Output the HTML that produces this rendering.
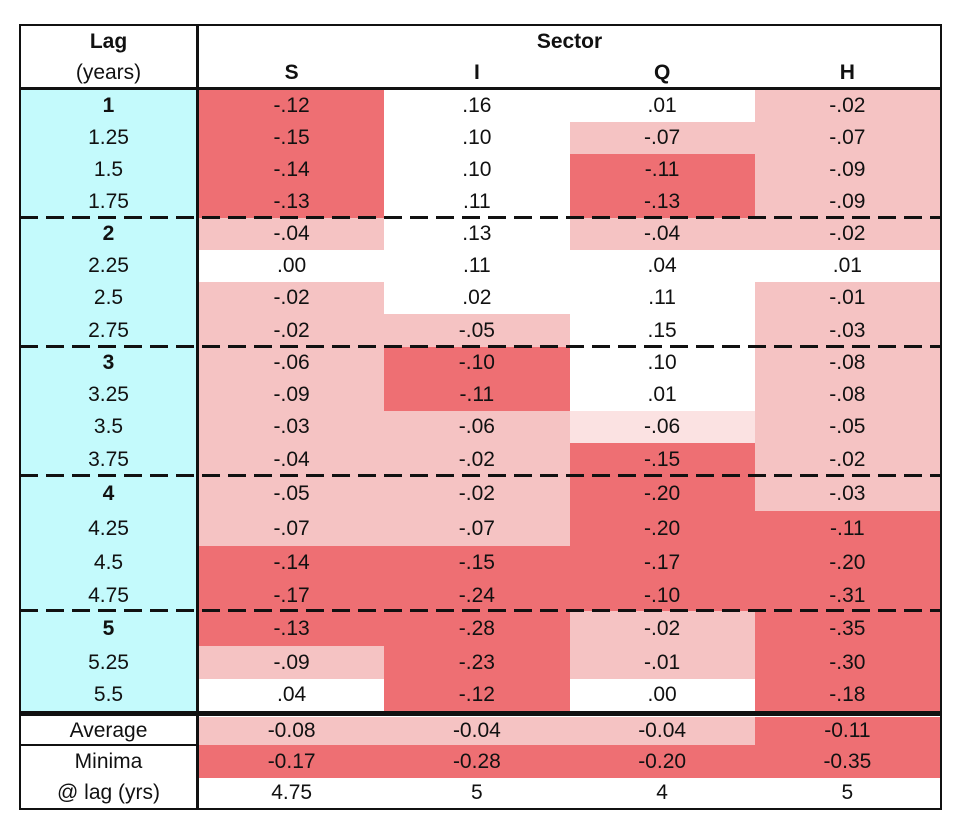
<!DOCTYPE html>
<html><head><meta charset="utf-8"><style>
*{margin:0;padding:0;box-sizing:border-box}
body{width:960px;height:826px;background:#fff;position:relative;font-family:"Liberation Sans",sans-serif;color:#111;overflow:hidden}
.a{position:absolute}
.r{position:absolute;left:199px;width:741px;display:flex}
.r div{width:185.25px;text-align:center;font-size:21px;display:flex;align-items:center;justify-content:center}
.D{background:#ee6f73}.L{background:#f5c3c3}.V{background:#fbe2e2}.W{background:#fff}
.lag{position:absolute;left:20px;width:177px;text-align:center;font-size:21px;display:flex;align-items:center;justify-content:center}
.b{font-weight:bold}
.dash{position:absolute;left:20px;width:922px;height:3px;background:repeating-linear-gradient(90deg,#111 0 18px,transparent 18px 26px)}
</style></head><body>
<div class="a" style="left:20px;top:90px;width:177px;height:621px;background:#c4fafc"></div>

<div class="r" style="top:90px;height:32px"><div class="D">-.12</div><div class="W">.16</div><div class="W">.01</div><div class="L">-.02</div></div>
<div class="r" style="top:122px;height:32px"><div class="D">-.15</div><div class="W">.10</div><div class="L">-.07</div><div class="L">-.07</div></div>
<div class="r" style="top:154px;height:32px"><div class="D">-.14</div><div class="W">.10</div><div class="D">-.11</div><div class="L">-.09</div></div>
<div class="r" style="top:186px;height:32px"><div class="D">-.13</div><div class="W">.11</div><div class="D">-.13</div><div class="L">-.09</div></div>
<div class="r" style="top:218px;height:32px"><div class="L">-.04</div><div class="W">.13</div><div class="L">-.04</div><div class="L">-.02</div></div>
<div class="r" style="top:250px;height:32px"><div class="W">.00</div><div class="W">.11</div><div class="W">.04</div><div class="W">.01</div></div>
<div class="r" style="top:282px;height:32px"><div class="L">-.02</div><div class="W">.02</div><div class="W">.11</div><div class="L">-.01</div></div>
<div class="r" style="top:314px;height:33px"><div class="L">-.02</div><div class="L">-.05</div><div class="W">.15</div><div class="L">-.03</div></div>
<div class="r" style="top:347px;height:32px"><div class="L">-.06</div><div class="D">-.10</div><div class="W">.10</div><div class="L">-.08</div></div>
<div class="r" style="top:379px;height:32px"><div class="L">-.09</div><div class="D">-.11</div><div class="W">.01</div><div class="L">-.08</div></div>
<div class="r" style="top:411px;height:32px"><div class="L">-.03</div><div class="L">-.06</div><div class="V">-.06</div><div class="L">-.05</div></div>
<div class="r" style="top:443px;height:33px"><div class="L">-.04</div><div class="L">-.02</div><div class="D">-.15</div><div class="L">-.02</div></div>
<div class="r" style="top:476px;height:35px"><div class="L">-.05</div><div class="L">-.02</div><div class="D">-.20</div><div class="L">-.03</div></div>
<div class="r" style="top:511px;height:35px"><div class="L">-.07</div><div class="L">-.07</div><div class="D">-.20</div><div class="D">-.11</div></div>
<div class="r" style="top:546px;height:34px"><div class="D">-.14</div><div class="D">-.15</div><div class="D">-.17</div><div class="D">-.20</div></div>
<div class="r" style="top:580px;height:31px"><div class="D">-.17</div><div class="D">-.24</div><div class="D">-.10</div><div class="D">-.31</div></div>
<div class="r" style="top:611px;height:35px"><div class="D">-.13</div><div class="D">-.28</div><div class="L">-.02</div><div class="D">-.35</div></div>
<div class="r" style="top:646px;height:33px"><div class="L">-.09</div><div class="D">-.23</div><div class="L">-.01</div><div class="D">-.30</div></div>
<div class="r" style="top:679px;height:32px"><div class="W">.04</div><div class="D">-.12</div><div class="W">.00</div><div class="D">-.18</div></div>

<div class="r" style="top:717px;height:28px"><div class="L">-0.08</div><div class="L">-0.04</div><div class="L">-0.04</div><div class="D">-0.11</div></div>
<div class="r" style="top:745px;height:33px"><div class="D">-0.17</div><div class="D">-0.28</div><div class="D">-0.20</div><div class="D">-0.35</div></div>
<div class="r" style="top:778px;height:30px"><div class="W">4.75</div><div class="W">5</div><div class="W">4</div><div class="W">5</div></div>

<div class="lag b" style="top:90px;height:32px">1</div>
<div class="lag" style="top:122px;height:32px">1.25</div>
<div class="lag" style="top:154px;height:32px">1.5</div>
<div class="lag" style="top:186px;height:32px">1.75</div>
<div class="lag b" style="top:218px;height:32px">2</div>
<div class="lag" style="top:250px;height:32px">2.25</div>
<div class="lag" style="top:282px;height:32px">2.5</div>
<div class="lag" style="top:314px;height:33px">2.75</div>
<div class="lag b" style="top:347px;height:32px">3</div>
<div class="lag" style="top:379px;height:32px">3.25</div>
<div class="lag" style="top:411px;height:32px">3.5</div>
<div class="lag" style="top:443px;height:33px">3.75</div>
<div class="lag b" style="top:476px;height:35px">4</div>
<div class="lag" style="top:511px;height:35px">4.25</div>
<div class="lag" style="top:546px;height:34px">4.5</div>
<div class="lag" style="top:580px;height:31px">4.75</div>
<div class="lag b" style="top:611px;height:35px">5</div>
<div class="lag" style="top:646px;height:33px">5.25</div>
<div class="lag" style="top:679px;height:32px">5.5</div>
<div class="lag" style="top:717px;height:28px">Average</div>
<div class="lag" style="top:745px;height:33px">Minima</div>
<div class="lag" style="top:778px;height:30px">@ lag (yrs)</div>

<div class="lag b" style="top:27px;height:30px">Lag</div>
<div class="lag" style="top:58px;height:30px">(years)</div>
<div class="a b" style="left:199px;width:741px;top:27px;height:30px;text-align:center;font-size:21px;line-height:30px">Sector</div>
<div class="r b" style="top:58px;height:30px"><div>S</div><div>I</div><div>Q</div><div>H</div></div>

<div class="dash" style="top:216px"></div>
<div class="dash" style="top:345px"></div>
<div class="dash" style="top:474px"></div>
<div class="dash" style="top:609px"></div>

<div class="a" style="left:19px;top:24px;width:923px;height:786px;border:2px solid #111"></div>
<div class="a" style="left:196px;top:24px;width:3px;height:786px;background:#111"></div>
<div class="a" style="left:19px;top:87px;width:923px;height:3px;background:#111"></div>
<div class="a" style="left:19px;top:711px;width:923px;height:5px;background:#111"></div>
<div class="a" style="left:19px;top:744px;width:180px;height:2px;background:#111"></div>
</body></html>
